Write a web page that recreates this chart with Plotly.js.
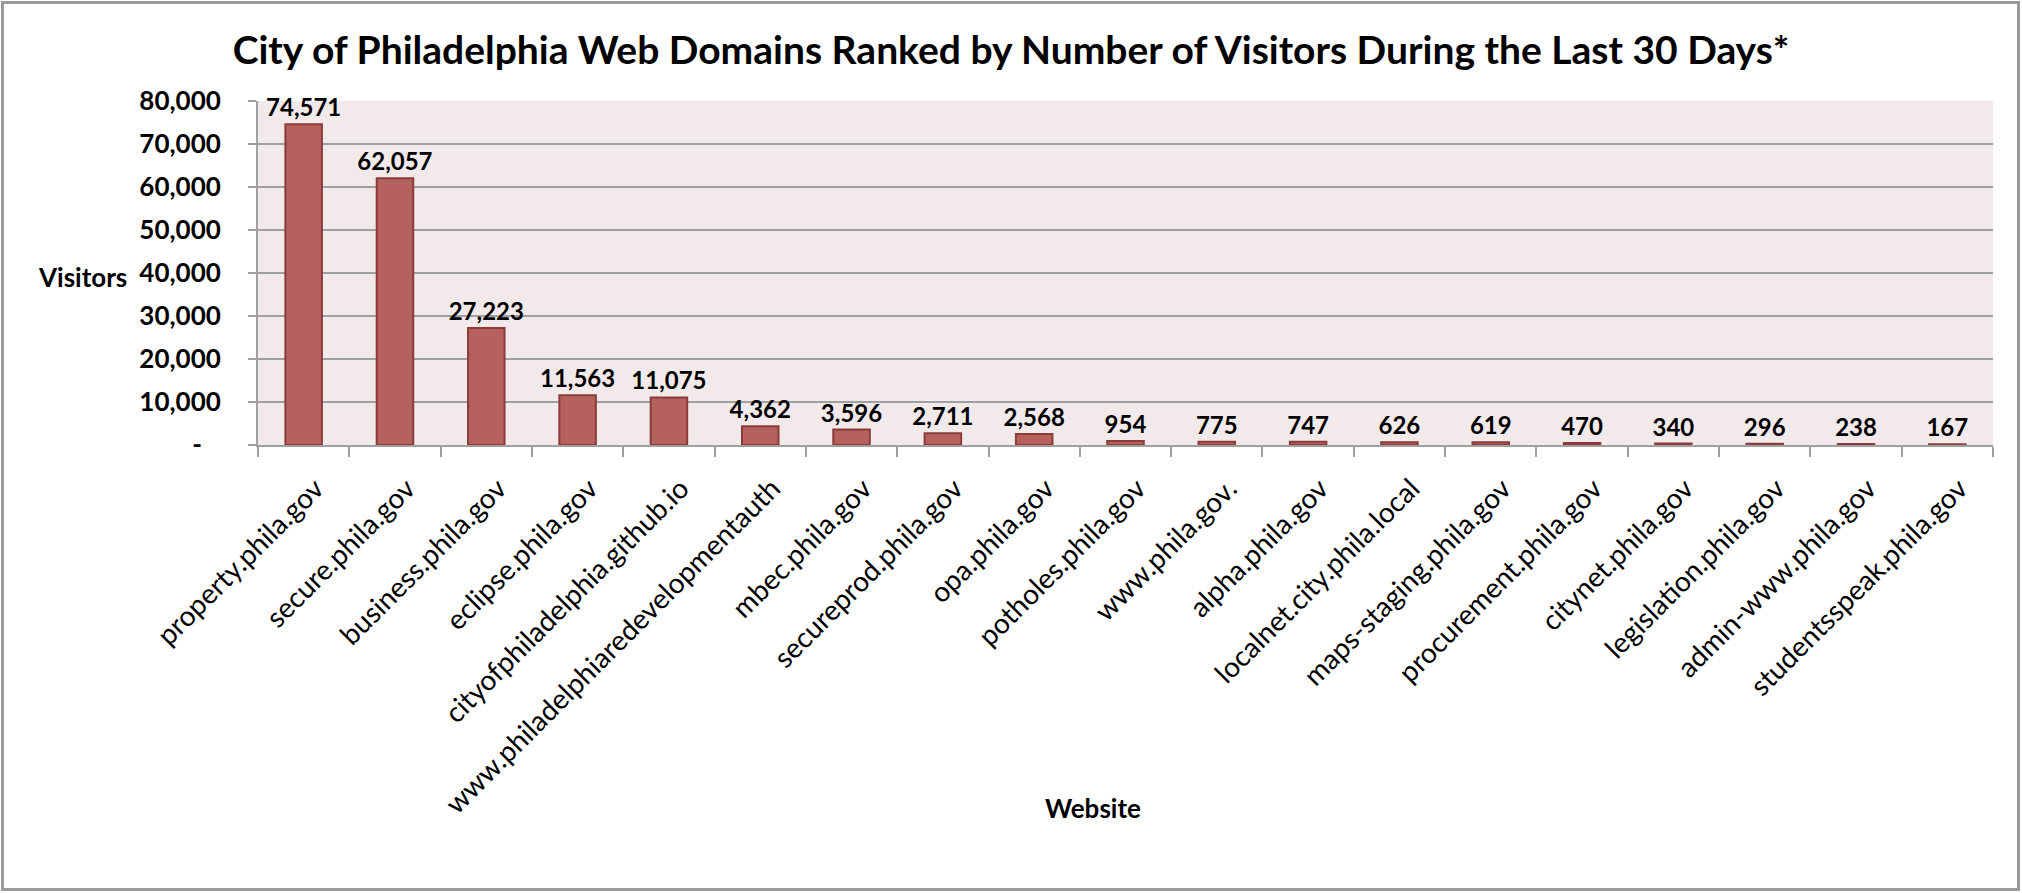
<!DOCTYPE html>
<html>
<head>
<meta charset="utf-8">
<script src="https://cdn.plot.ly/plotly-3.0.1.min.js"></script>
<style>
  html, body { margin: 0; padding: 0; background: #ffffff; }
  #chart { width: 2022px; height: 893px; }
</style>
</head>
<body>
<div id="chart"></div>
<script>
const categories = [
  "property.phila.gov", "secure.phila.gov", "business.phila.gov", "eclipse.phila.gov",
  "cityofphiladelphia.github.io", "www.philadelphiaredevelopmentauth", "mbec.phila.gov",
  "secureprod.phila.gov", "opa.phila.gov", "potholes.phila.gov", "www.phila.gov.",
  "alpha.phila.gov", "localnet.city.phila.local", "maps-staging.phila.gov",
  "procurement.phila.gov", "citynet.phila.gov", "legislation.phila.gov",
  "admin-www.phila.gov", "studentsspeak.phila.gov"
];
const visitors = [74571, 62057, 27223, 11563, 11075, 4362, 3596, 2711, 2568, 954, 775, 747, 626, 619, 470, 340, 296, 238, 167];
const yTickVals = [0, 10000, 20000, 30000, 40000, 50000, 60000, 70000, 80000];
const yTickText = ["-\u00a0\u00a0\u00a0", "10,000", "20,000", "30,000", "40,000", "50,000", "60,000", "70,000", "80,000"];

const W = 2022, H = 893;
const M = { l: 258, r: 29, t: 101, b: 448 };
const pw = W - M.l - M.r, ph = H - M.t - M.b;
const FONT = "Lato, 'Open Sans', sans-serif";

const trace = {
  type: "bar",
  x: categories,
  y: visitors,
  marker: { color: "#b5625e", line: { color: "#8c3b3b", width: 2 } },
  text: visitors.map(v => v.toLocaleString("en-US")),
  textposition: "outside",
  textfont: { family: FONT, size: 24, color: "#000000", weight: "bold" },
  constraintext: "none",
  cliponaxis: false,
  hoverinfo: "x+y"
};

const layout = {
  width: W, height: H,
  margin: M,
  paper_bgcolor: "#ffffff",
  plot_bgcolor: "#f2eaea",
  showlegend: false,
  bargap: 0.6,
  title: {
    text: "City of Philadelphia Web Domains Ranked by Number of Visitors During the Last 30 Days*",
    font: { family: FONT, size: 39, color: "#000000", weight: "bold" },
    x: 0.5, xanchor: "center", xref: "container",
    y: 1 - 50 / H, yanchor: "middle", yref: "container"
  },
  xaxis: {
    type: "category",
    tickangle: -45,
    tickson: "boundaries",
    ticks: "outside", ticklen: 10, tickwidth: 2, tickcolor: "#a0a0a0",
    showline: true, linecolor: "#a0a0a0", linewidth: 2,
    showgrid: false,
    tickfont: { family: FONT, size: 28, color: "#000000" },
    ticklabelstandoff: 14,
    ticklabelshift: 12,
    automargin: false
  },
  yaxis: {
    range: [0, 80000],
    tickvals: yTickVals, ticktext: yTickText,
    ticks: "outside", ticklen: 8, tickwidth: 2, tickcolor: "#a0a0a0",
    showline: true, linecolor: "#a0a0a0", linewidth: 2,
    showgrid: true, gridcolor: "#a0a0a0", gridwidth: 2,
    zeroline: false,
    tickfont: { family: FONT, size: 26, color: "#000000", weight: "bold" },
    ticklabelstandoff: 22,
    automargin: false
  },
  annotations: [
    {
      text: "Visitors", xref: "paper", yref: "paper",
      x: (82 - M.l) / pw, y: 1 - (277 - M.t) / ph,
      xanchor: "center", yanchor: "middle", showarrow: false,
      font: { family: FONT, size: 26, color: "#000000", weight: "bold" }
    },
    {
      text: "Website", xref: "paper", yref: "paper",
      x: (1093 - M.l) / pw, y: -(808 - (H - M.b)) / ph,
      xanchor: "center", yanchor: "middle", showarrow: false,
      font: { family: FONT, size: 26, color: "#000000", weight: "bold" }
    }
  ],
  shapes: [
    {
      type: "rect", xref: "paper", yref: "paper", layer: "above",
      x0: (2.5 - M.l) / pw, x1: (2018.5 - M.l) / pw,
      y0: -(889.5 - M.t - ph) / ph, y1: 1 + (M.t - 2.5) / ph,
      line: { color: "#9a9a9a", width: 3 }, fillcolor: "rgba(0,0,0,0)"
    }
  ]
};

Plotly.newPlot("chart", [trace], layout, { displayModeBar: false, staticPlot: true });
</script>
</body>
</html>
